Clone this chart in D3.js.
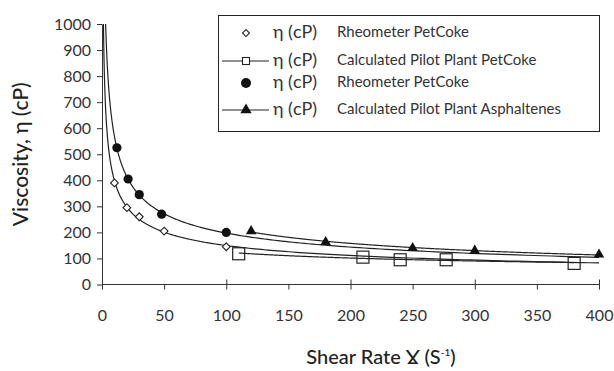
<!DOCTYPE html>
<html>
<head>
<meta charset="utf-8">
<script src="https://cdn.jsdelivr.net/npm/d3@7/dist/d3.min.js"></script>
<style>
  html, body { margin: 0; padding: 0; background: #fff; }
  svg { display: block; font-family: "Lato", "DejaVu Sans", sans-serif; }
</style>
</head>
<body>
<svg id="chart" width="614" height="371"></svg>
<script>
// Shear rate (1/s) and viscosity (cP) for each measured / calculated series
const rheoPetCokeA_x = [10, 20, 30, 50, 100];
const rheoPetCokeA_y = [390, 295, 260, 205, 145];

const pilotPetCoke_x = [110, 210, 240, 277, 380];
const pilotPetCoke_y = [118, 105, 95, 95, 81];

const rheoPetCokeB_x = [12, 21, 30, 48, 100];
const rheoPetCokeB_y = [525, 405, 345, 270, 200];

const pilotAsph_x = [120, 180, 250, 300, 400];
const pilotAsph_y = [205, 163, 140, 130, 115];

const xTicks = [0, 50, 100, 150, 200, 250, 300, 350, 400];
const yTicks = [0, 100, 200, 300, 400, 500, 600, 700, 800, 900, 1000];

const legendLabels = [
  "Rheometer PetCoke",
  "Calculated Pilot Plant PetCoke",
  "Rheometer PetCoke",
  "Calculated Pilot Plant Asphaltenes"
];

const svg = d3.select("#chart");
const ink = "#222";
const textCol = "#333";

const x = d3.scaleLinear().domain([0, 400]).range([102, 599]);
const y = d3.scaleLinear().domain([0, 1000]).range([284.5, 24]);

// Least-squares power-law trend (eta = a * gamma^b) through a series
function powerFit(xs, ys) {
  const lx = xs.map(Math.log), ly = ys.map(Math.log);
  const mx = d3.mean(lx), my = d3.mean(ly);
  const b = d3.sum(lx, (v, i) => (v - mx) * (ly[i] - my)) / d3.sum(lx, v => (v - mx) ** 2);
  const a = Math.exp(my - b * mx);
  return g => a * Math.pow(g, b);
}

function trend(xs, ys, from, to) {
  const f = powerFit(xs, ys);
  const pts = [];
  const n = 300;
  for (let i = 0; i <= n; i++) {
    // geometric spacing: denser sampling near the steep low-rate end
    const g = from * Math.pow(to / from, i / n);
    pts.push([g, f(g)]);
  }
  return pts;
}

// Clip curves to the plotting area
svg.append("clipPath").attr("id", "plot")
  .append("rect").attr("x", x(0)).attr("y", y(1000))
  .attr("width", x(400) - x(0) + 4).attr("height", y(0) - y(1000));

const line = d3.line().x(d => x(d[0])).y(d => y(d[1]));
const curves = svg.append("g").attr("clip-path", "url(#plot)")
  .attr("fill", "none").attr("stroke", ink).attr("stroke-width", 1.2);

curves.append("path").attr("d", line(trend(rheoPetCokeA_x, rheoPetCokeA_y, 1.0, 400)));
curves.append("path").attr("d", line(trend(rheoPetCokeB_x, rheoPetCokeB_y, 1.0, 400)));
curves.append("path").attr("d", line(trend(pilotPetCoke_x, pilotPetCoke_y, 110, 380)));
curves.append("path").attr("d", line(trend(pilotAsph_x, pilotAsph_y, 120, 400)));

// Axes
const yAxis = d3.axisLeft(y).tickValues(yTicks).tickFormat(d3.format("d"))
  .tickSize(5).tickSizeOuter(0).tickPadding(6);
const gy = svg.append("g").attr("transform", `translate(${x(0)},0)`).call(yAxis);
gy.select(".domain").attr("stroke", "#333");
gy.selectAll(".tick line").attr("stroke", "#333");
gy.selectAll("text").attr("fill", textCol).style("font-size", "16px").style("font-family", "Lato, sans-serif");

const xAxis = d3.axisBottom(x).tickValues(xTicks).tickFormat(d3.format("d"))
  .tickSize(5).tickSizeOuter(0).tickPadding(20);
const gx = svg.append("g").attr("transform", `translate(0,${y(0)})`).call(xAxis);
gx.select(".domain").attr("stroke", "#333").attr("d", `M${x(0)},0H${x(400)}`);
gx.selectAll(".tick line").attr("stroke", "#333")
  .attr("y1", d => d % 100 === 0 ? -5 : 0);
gx.selectAll("text").attr("fill", textCol).style("font-size", "16px").style("font-family", "Lato, sans-serif");

// Axis titles
svg.append("text")
  .attr("transform", `translate(28,${(y(0) + y(1000)) / 2}) rotate(-90)`)
  .attr("text-anchor", "middle")
  .attr("fill", "#222")
  .style("font-size", "21px")
  .style("font-weight", "500")
  .text("Viscosity, η (cP)");

const xt = svg.append("text")
  .attr("x", 381).attr("y", 364)
  .attr("text-anchor", "middle")
  .attr("fill", "#222")
  .style("font-size", "20px")
  .style("font-weight", "500");
xt.append("tspan").text("Shear Rate Ɣ (S");
xt.append("tspan").attr("dy", -8).style("font-size", "10px").text("-1");
xt.append("tspan").attr("dy", 8).text(")");

// Markers
const diamond = d3.symbol().type(d3.symbolSquare).size(30);
const tri = d3.symbol().type(d3.symbolTriangle).size(48);

svg.append("g").selectAll("path").data(rheoPetCokeA_x.map((v, i) => [v, rheoPetCokeA_y[i]]))
  .join("path")
  .attr("d", diamond)
  .attr("transform", d => `translate(${x(d[0])},${y(d[1])}) rotate(45)`)
  .attr("fill", "#fff").attr("stroke", ink).attr("stroke-width", 1.1);

svg.append("g").selectAll("rect").data(pilotPetCoke_x.map((v, i) => [v, pilotPetCoke_y[i]]))
  .join("rect")
  .attr("x", d => x(d[0]) - 6).attr("y", d => y(d[1]) - 6)
  .attr("width", 12).attr("height", 12)
  .attr("fill", "none").attr("stroke", ink).attr("stroke-width", 1.2);

svg.append("g").selectAll("circle").data(rheoPetCokeB_x.map((v, i) => [v, rheoPetCokeB_y[i]]))
  .join("circle")
  .attr("cx", d => x(d[0])).attr("cy", d => y(d[1])).attr("r", 4.6)
  .attr("fill", "#111");

svg.append("g").selectAll("path").data(pilotAsph_x.map((v, i) => [v, pilotAsph_y[i]]))
  .join("path")
  .attr("d", tri)
  .attr("transform", d => `translate(${x(d[0])},${y(d[1])})`)
  .attr("fill", "#111");

// Legend
const lg = svg.append("g");
lg.append("rect").attr("x", 218.5).attr("y", 15.5).attr("width", 381).attr("height", 116)
  .attr("fill", "#fff").attr("stroke", "#222").attr("stroke-width", 1);

const rowY = [33, 61, 83, 110];
const mx = 246;
// row 1: diamond only
lg.append("path").attr("d", d3.symbol().type(d3.symbolSquare).size(24))
  .attr("transform", `translate(${mx},${rowY[0]}) rotate(45)`)
  .attr("fill", "#fff").attr("stroke", ink).attr("stroke-width", 1.1);
// row 2: line + small square
lg.append("line").attr("x1", 222).attr("x2", 269).attr("y1", rowY[1]).attr("y2", rowY[1])
  .attr("stroke", ink).attr("stroke-width", 1.2);
lg.append("rect").attr("x", mx - 3.5).attr("y", rowY[1] - 3.5).attr("width", 7).attr("height", 7)
  .attr("fill", "#fff").attr("stroke", ink).attr("stroke-width", 1.1);
// row 3: filled circle
lg.append("circle").attr("cx", mx).attr("cy", rowY[2]).attr("r", 5).attr("fill", "#111");
// row 4: line + triangle
lg.append("line").attr("x1", 222).attr("x2", 269).attr("y1", rowY[3]).attr("y2", rowY[3])
  .attr("stroke", ink).attr("stroke-width", 1.2);
lg.append("path").attr("d", d3.symbol().type(d3.symbolTriangle).size(55))
  .attr("transform", `translate(${mx},${rowY[3]})`).attr("fill", "#111");

legendLabels.forEach((lab, i) => {
  lg.append("text").attr("x", 273).attr("y", rowY[i] + 5)
    .attr("fill", textCol).style("font-size", "18px").text("η (cP)");
  lg.append("text").attr("x", 337).attr("y", rowY[i] + 4)
    .attr("fill", textCol).style("font-size", "15px").text(lab);
});
</script>
</body>
</html>
